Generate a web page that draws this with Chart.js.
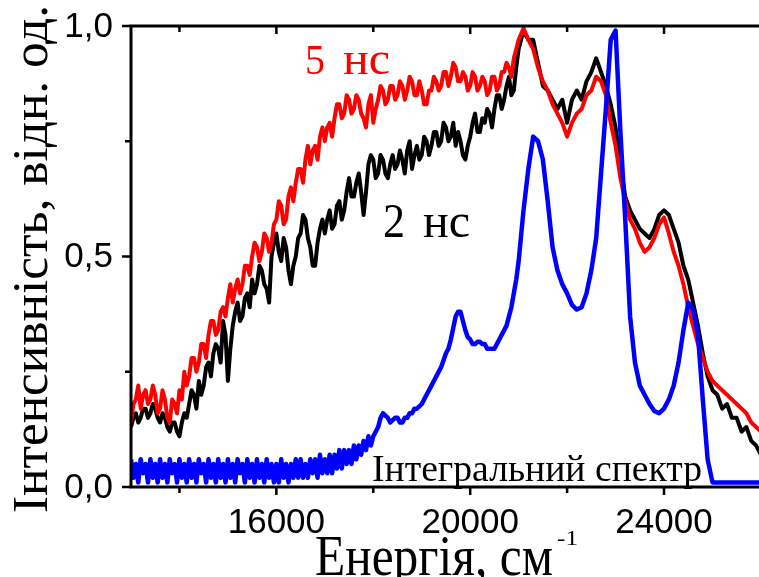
<!DOCTYPE html>
<html lang="uk">
<head>
  <meta charset="UTF-8" />
  <title>Інтенсивність / Енергія</title>
  <script src="https://cdn.jsdelivr.net/npm/chart.js"></script>
  <style>
    body { margin:0; background:#fff; }
    #wrap { width:759px; height:577px; position:relative; }
  </style>
</head>
<body>
  <div id="wrap"><canvas id="spectra"></canvas></div>

  <script>
    // energy grid, cm^-1 (finer where the curves are noisy)
    const energy = [
      13000, 13050, 13100, 13150, 13200, 13250, 13300, 13350, 13400, 13450,
      13500, 13550, 13600, 13650, 13700, 13750, 13800, 13850, 13900, 13950,
      14000, 14050, 14100, 14150, 14200, 14250, 14300, 14350, 14400, 14450,
      14500, 14550, 14600, 14650, 14700, 14750, 14800, 14850, 14900, 14950,
      15000, 15050, 15100, 15150, 15200, 15250, 15300, 15350, 15400, 15450,
      15500, 15550, 15600, 15650, 15700, 15750, 15800, 15850, 15900, 15950,
      16000, 16050, 16100, 16150, 16200, 16250, 16300, 16350, 16400, 16450,
      16500, 16550, 16600, 16650, 16700, 16750, 16800, 16850, 16900, 16950,
      17000, 17050, 17100, 17150, 17200, 17250, 17300, 17350, 17400, 17450,
      17500, 17550, 17600, 17650, 17700, 17750, 17800, 17850, 17900, 17950,
      18000, 18050, 18100, 18150, 18200, 18250, 18300, 18350, 18400, 18450,
      18500, 18550, 18600, 18650, 18700, 18750, 18800, 18850, 18900, 18950,
      19000, 19050, 19100, 19150, 19200, 19250, 19300, 19350, 19400, 19450,
      19500, 19550, 19600, 19650, 19700, 19750, 19800, 19850, 19900, 19950,
      20000, 20050, 20100, 20150, 20200, 20250, 20300, 20350, 20400, 20450,
      20500, 20550, 20600, 20650, 20700, 20750, 20800, 20850, 20900, 20950,
      21000, 21100, 21200, 21300, 21400, 21500, 21600, 21700, 21800, 21900,
      22000, 22100, 22200, 22300, 22400, 22500, 22600, 22700, 22800, 22900,
      23000, 23100, 23200, 23300, 23400, 23500, 23600, 23700, 23800, 23900,
      24000, 24100, 24200, 24300, 24400, 24500, 24600, 24700, 24800, 24900,
      25000, 25100, 25200, 25300, 25400, 25500, 25600, 25700, 25800, 25900,
      26000
    ];

    // 5 нс
    const spectrum5ns = [
      0.14, 0.18, 0.19, 0.22, 0.17, 0.20, 0.21, 0.18, 0.19, 0.22,
      0.20, 0.16, 0.17, 0.21, 0.19, 0.15, 0.14, 0.19, 0.18, 0.16,
      0.21, 0.19, 0.25, 0.22, 0.24, 0.28, 0.28, 0.25, 0.27, 0.31,
      0.31, 0.28, 0.33, 0.36, 0.36, 0.33, 0.34, 0.38, 0.39, 0.37,
      0.41, 0.44, 0.40, 0.43, 0.45, 0.42, 0.44, 0.48, 0.48, 0.46,
      0.50, 0.53, 0.52, 0.49, 0.51, 0.55, 0.54, 0.51, 0.53, 0.57,
      0.58, 0.62, 0.61, 0.57, 0.58, 0.63, 0.65, 0.62, 0.66, 0.69,
      0.69, 0.66, 0.71, 0.74, 0.70, 0.73, 0.74, 0.71, 0.76, 0.78,
      0.75, 0.78, 0.79, 0.76, 0.80, 0.83, 0.83, 0.80, 0.81, 0.85,
      0.84, 0.81, 0.82, 0.85, 0.84, 0.81, 0.80, 0.78, 0.83, 0.85,
      0.79, 0.82, 0.84, 0.87, 0.86, 0.83, 0.84, 0.87, 0.87, 0.84,
      0.85, 0.88, 0.87, 0.84, 0.86, 0.89, 0.88, 0.85, 0.85, 0.88,
      0.86, 0.83, 0.83, 0.86, 0.86, 0.89, 0.88, 0.86, 0.87, 0.90,
      0.90, 0.87, 0.89, 0.92, 0.91, 0.88, 0.88, 0.90, 0.89, 0.86,
      0.87, 0.90, 0.89, 0.86, 0.87, 0.89, 0.88, 0.85, 0.86, 0.89,
      0.89, 0.86, 0.87, 0.90, 0.90, 0.92, 0.91, 0.89, 0.93, 0.95,
      0.97, 0.995, 0.97, 0.95, 0.91, 0.88, 0.86, 0.83, 0.81, 0.79,
      0.76, 0.79, 0.81, 0.82, 0.85, 0.86, 0.89, 0.88, 0.85, 0.79,
      0.74, 0.67, 0.62, 0.58, 0.56, 0.53, 0.51, 0.52, 0.54, 0.57,
      0.585, 0.55, 0.51, 0.48, 0.44, 0.39, 0.35, 0.31, 0.28, 0.25,
      0.23, 0.22, 0.21, 0.20, 0.19, 0.18, 0.17, 0.16, 0.14, 0.13,
      0.12
    ];

    // 2 нс
    const spectrum2ns = [
      0.13, 0.15, 0.16, 0.14, 0.15, 0.17, 0.17, 0.15, 0.16, 0.18,
      0.17, 0.15, 0.14, 0.16, 0.15, 0.13, 0.12, 0.14, 0.14, 0.12,
      0.11, 0.14, 0.16, 0.15, 0.18, 0.21, 0.20, 0.17, 0.23, 0.20,
      0.22, 0.26, 0.27, 0.24, 0.29, 0.31, 0.30, 0.27, 0.36, 0.33,
      0.23, 0.30, 0.35, 0.38, 0.40, 0.36, 0.37, 0.41, 0.42, 0.39,
      0.45, 0.42, 0.44, 0.48, 0.47, 0.44, 0.43, 0.40, 0.50, 0.53,
      0.55, 0.51, 0.49, 0.54, 0.52, 0.47, 0.44, 0.48, 0.50, 0.54,
      0.55, 0.59, 0.58, 0.54, 0.52, 0.48, 0.48, 0.53, 0.56, 0.58,
      0.55, 0.58, 0.60, 0.56, 0.57, 0.61, 0.62, 0.58, 0.60, 0.64,
      0.67, 0.63, 0.63, 0.66, 0.68, 0.64, 0.59, 0.64, 0.70, 0.72,
      0.71, 0.67, 0.68, 0.72, 0.71, 0.68, 0.67, 0.70, 0.72, 0.69,
      0.70, 0.73, 0.71, 0.68, 0.73, 0.75, 0.69, 0.72, 0.74, 0.71,
      0.72, 0.76, 0.75, 0.72, 0.74, 0.77, 0.77, 0.74, 0.75, 0.79,
      0.78, 0.75, 0.76, 0.79, 0.74, 0.77, 0.75, 0.72, 0.71, 0.74,
      0.76, 0.79, 0.81, 0.77, 0.77, 0.80, 0.79, 0.82, 0.81, 0.78,
      0.82, 0.85, 0.85, 0.82, 0.84, 0.87, 0.89, 0.85, 0.86, 0.91,
      0.95, 0.99, 0.97, 0.97, 0.92, 0.87, 0.86, 0.84, 0.82, 0.84,
      0.79, 0.84, 0.86, 0.84, 0.88, 0.90, 0.93, 0.90, 0.87, 0.83,
      0.78, 0.70, 0.63, 0.60, 0.58, 0.56, 0.55, 0.54, 0.56, 0.59,
      0.60, 0.59, 0.56, 0.53, 0.48, 0.45, 0.40, 0.35, 0.29, 0.24,
      0.21, 0.20, 0.17, 0.18, 0.15, 0.15, 0.12, 0.13, 0.10, 0.09,
      0.07
    ];

    // Інтегральний спектр
    const spectrumIntegral = [
      0.06, 0.02, 0.05, 0.01, 0.06, 0.03, 0.05, 0.01, 0.06, 0.02,
      0.05, 0.01, 0.06, 0.02, 0.05, 0.01, 0.06, 0.03, 0.05, 0.01,
      0.06, 0.02, 0.05, 0.01, 0.06, 0.02, 0.05, 0.01, 0.06, 0.03,
      0.05, 0.01, 0.06, 0.02, 0.05, 0.01, 0.06, 0.02, 0.05, 0.01,
      0.06, 0.02, 0.05, 0.01, 0.06, 0.03, 0.05, 0.01, 0.06, 0.02,
      0.05, 0.01, 0.06, 0.02, 0.05, 0.01, 0.06, 0.02, 0.05, 0.01,
      0.05, 0.01, 0.06, 0.02, 0.05, 0.01, 0.05, 0.02, 0.06, 0.02,
      0.06, 0.02, 0.05, 0.02, 0.06, 0.03, 0.06, 0.02, 0.07, 0.03,
      0.06, 0.03, 0.07, 0.03, 0.07, 0.04, 0.08, 0.04, 0.08, 0.05,
      0.08, 0.05, 0.09, 0.06, 0.09, 0.07, 0.10, 0.08, 0.11, 0.09,
      0.11, 0.12, 0.13, 0.15, 0.16, 0.155, 0.15, 0.14, 0.145, 0.15,
      0.15, 0.14, 0.14, 0.15, 0.15, 0.16, 0.16, 0.17, 0.17, 0.175,
      0.18, 0.19, 0.20, 0.21, 0.22, 0.23, 0.24, 0.25, 0.26, 0.275,
      0.29, 0.30, 0.32, 0.345, 0.37, 0.38, 0.38, 0.36, 0.34, 0.325,
      0.32, 0.31, 0.31, 0.315, 0.315, 0.31, 0.31, 0.30, 0.30, 0.30,
      0.30, 0.31, 0.32, 0.33, 0.34, 0.35, 0.37, 0.39, 0.42, 0.45,
      0.49, 0.60, 0.69, 0.76, 0.75, 0.71, 0.62, 0.52, 0.47, 0.44,
      0.42, 0.395, 0.385, 0.39, 0.42, 0.47, 0.54, 0.68, 0.82, 0.97,
      0.99, 0.77, 0.58, 0.37, 0.27, 0.22, 0.20, 0.18, 0.165, 0.16,
      0.17, 0.19, 0.22, 0.27, 0.34, 0.40, 0.385, 0.33, 0.19, 0.06,
      0.01, 0.01, 0.01, 0.01, 0.01, 0.01, 0.01, 0.01, 0.01, 0.01,
      0.01
    ];

    const xTickValues = [14000, 16000, 18000, 20000, 22000, 24000];
    const xTickLabels = ['', '16000', '', '20000', '', '24000'];
    const yTickValues = [0, 0.25, 0.5, 0.75, 1];
    const yTickLabels = ['0,0', '', '0,5', '', '1,0'];

    const pts = vals => energy.map((e, i) => ({ x: e, y: vals[i] }));

    function fitText(ctx, text, x, y, size, width, color, angle, sy) {
      ctx.save();
      ctx.font = size + 'px "Liberation Serif", serif';
      const w = ctx.measureText(text).width;
      ctx.translate(x, y);
      if (angle) ctx.rotate(angle);
      ctx.scale(width / w, sy || 1);
      ctx.fillStyle = color;
      ctx.textAlign = 'left';
      ctx.textBaseline = 'alphabetic';
      ctx.fillText(text, 0, 0);
      ctx.restore();
    }

    // frame, ticks and all the texts
    const decor = {
      id: 'decor',
      afterDatasetsDraw(chart) {
        const { ctx, chartArea: a, scales: { x, y } } = chart;
        ctx.save();
        ctx.strokeStyle = '#000';
        ctx.lineWidth = 3;
        ctx.lineCap = 'square';
        ctx.beginPath();
        ctx.moveTo(a.right + 2, a.top); ctx.lineTo(a.left, a.top);
        ctx.lineTo(a.left, a.bottom); ctx.lineTo(a.right + 2, a.bottom);
        ctx.stroke();

        ctx.lineCap = 'butt';
        ctx.lineWidth = 2.5;
        ctx.beginPath();
        xTickValues.forEach((v, i) => {
          const px = x.getPixelForValue(v);
          const len = xTickLabels[i] ? 8 : 6;
          ctx.moveTo(px, a.bottom); ctx.lineTo(px, a.bottom + len);
          ctx.moveTo(px, a.top); ctx.lineTo(px, a.top + len);
        });
        yTickValues.forEach((v, i) => {
          const py = y.getPixelForValue(v);
          const len = yTickLabels[i] ? 9 : 6;
          ctx.moveTo(a.left, py); ctx.lineTo(a.left - len, py);
        });
        ctx.stroke();

        ctx.fillStyle = '#000';
        ctx.font = '35px "Liberation Sans", Arial, sans-serif';
        ctx.textAlign = 'center';
        ctx.textBaseline = 'alphabetic';
        xTickValues.forEach((v, i) => {
          if (xTickLabels[i]) ctx.fillText(xTickLabels[i], x.getPixelForValue(v), 533);
        });
        ctx.textAlign = 'right';
        ctx.textBaseline = 'middle';
        yTickValues.forEach((v, i) => {
          if (yTickLabels[i]) ctx.fillText(yTickLabels[i], 113, y.getPixelForValue(v) + 1);
        });
        ctx.restore();

        fitText(ctx, 'Інтенсивність, відн. од.', 47, 513, 51, 508, '#000', -Math.PI / 2);
        fitText(ctx, 'Енергія, см', 315, 575, 52, 238, '#000', 0, 1.1);
        fitText(ctx, '-1', 557, 545, 22, 21, '#000');
        fitText(ctx, '5', 305, 74, 42, 20, '#ff0000');
        fitText(ctx, 'нс', 343, 74, 46, 47, '#ff0000');
        fitText(ctx, '2', 383, 237, 48, 22, '#000');
        fitText(ctx, 'нс', 423, 237, 48, 47, '#000');
        fitText(ctx, 'Інтегральний спектр', 372, 481, 37, 330, '#000');
      }
    };

    const line = (label, vals, color, width) => ({
      label,
      data: pts(vals),
      borderColor: color,
      borderWidth: width,
      borderJoinStyle: 'round',
      pointRadius: 0,
      tension: 0,
      fill: false
    });

    new Chart(document.getElementById('spectra'), {
      type: 'line',
      data: {
        datasets: [
          line('Інтегральний спектр', spectrumIntegral, '#0000ff', 4.5),
          line('5 нс', spectrum5ns, '#ff0000', 4),
          line('2 нс', spectrum2ns, '#000000', 4)
        ]
      },
      options: {
        responsive: true,
        maintainAspectRatio: false,
        animation: false,
        layout: { padding: { left: 131, top: 26, right: 0, bottom: 90 } },
        plugins: { legend: { display: false }, tooltip: { enabled: false } },
        scales: {
          x: { type: 'linear', display: false, min: 13000, max: 25960 },
          y: { display: false, min: 0, max: 1 }
        }
      },
      plugins: [decor]
    });
  </script>
</body>
</html>
